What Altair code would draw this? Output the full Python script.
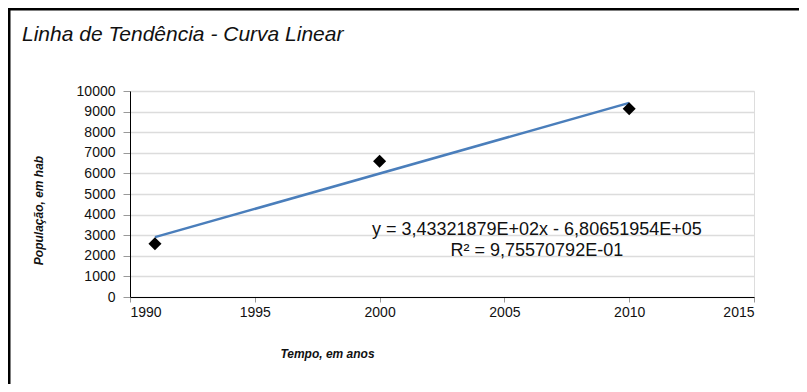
import altair as alt
import pandas as pd

years = [1991, 2000, 2010]
population = [2590, 6590, 9140]

eq_text = ["y = 3,43321879E+02x - 6,80651954E+05", "R² = 9,75570792E-01"]
eq_x = [2006.3, 2006.3]
eq_y = [3230, 2250]

title_text = ["Linha de Tendência - Curva Linear"]
x_ticks = [1990, 1995, 2000, 2005, 2010, 2015]
y_ticks = [0, 1000, 2000, 3000, 4000, 5000, 6000, 7000, 8000, 9000, 10000]

df = pd.DataFrame({"Ano": years, "Pop": population})
df_eq = pd.DataFrame({"t": eq_text, "x": eq_x, "y": eq_y})
df_title = pd.DataFrame({"t": title_text})
dummy = pd.DataFrame({"a": [0]})

FONT = "Liberation Sans"

xscale = alt.Scale(domain=[1990, 2015], nice=False, zero=False)
yscale = alt.Scale(domain=[0, 10000], nice=False)

xaxis = alt.Axis(values=x_ticks, format="d", grid=False, labelOverlap=False,
                 tickSize=5, labelPadding=3, labelFontSize=14, labelFont=FONT,
                 labelColor="#111", domainColor="#000", tickColor="#999",
                 title="Tempo, em anos", titleFont=FONT, titleFontSize=12,
                 titleFontStyle="italic", titleFontWeight="bold", titleColor="#111",
                 titleX=197, titleY=60, titleAnchor="middle", titleBaseline="alphabetic")
yaxis = alt.Axis(values=y_ticks, format="d", labelOverlap=False,
                 grid=True, gridColor="#dcdcdc",
                 gridWidth=1.5, tickSize=7, labelPadding=8, labelFontSize=14,
                 labelFont=FONT, labelColor="#111", domainColor="#000", tickColor="#999",
                 title="População,  em hab", titleFont=FONT, titleFontSize=12,
                 titleFontStyle="italic", titleFontWeight="bold", titleColor="#111",
                 titleX=-92, titleY=119, titleAngle=-90, titleAnchor="middle",
                 titleBaseline="middle")

X = lambda f: alt.X(f, scale=xscale, axis=xaxis)
Y = lambda f: alt.Y(f, scale=yscale, axis=yaxis)

base = alt.Chart(df)

line = base.transform_regression("Ano", "Pop").mark_line(
    color="#4a7ebb", strokeWidth=2.5
).encode(x=X("Ano:Q"), y=Y("Pop:Q"))

pts = base.mark_point(shape="diamond", filled=True, color="#000", size=170, opacity=1).encode(
    x=X("Ano:Q"), y=Y("Pop:Q")
)

eq = alt.Chart(df_eq).mark_text(font=FONT, fontSize=18, color="#111", align="center",
                                baseline="middle").encode(
    x=X("x:Q"), y=Y("y:Q"), text="t:N"
)

title = alt.Chart(df_title).mark_text(font=FONT, fontSize=21, fontStyle="italic",
                                      color="#111", align="left",
                                      baseline="alphabetic").encode(
    x=alt.value(-108), y=alt.value(-50), text="t:N"
)

frame_left = alt.Chart(dummy).mark_rule(color="#000", strokeWidth=3).encode(
    x=alt.value(-121), y=alt.value(-83), y2=alt.value(300)
)
frame_top = alt.Chart(dummy).mark_rule(color="#000", strokeWidth=3).encode(
    y=alt.value(-82), x=alt.value(-122), x2=alt.value(720)
)

chart = alt.layer(line, pts, eq, title, frame_left, frame_top).properties(
    width=624, height=206,
    autosize=alt.AutoSizeParams(type="none"),
    padding={"left": 122, "top": 83, "right": 45, "bottom": 87},
).configure_view(stroke="#999", strokeWidth=1.5).configure(background="white")

chart.save("out.html", embed_options={"renderer": "svg", "actions": False})
